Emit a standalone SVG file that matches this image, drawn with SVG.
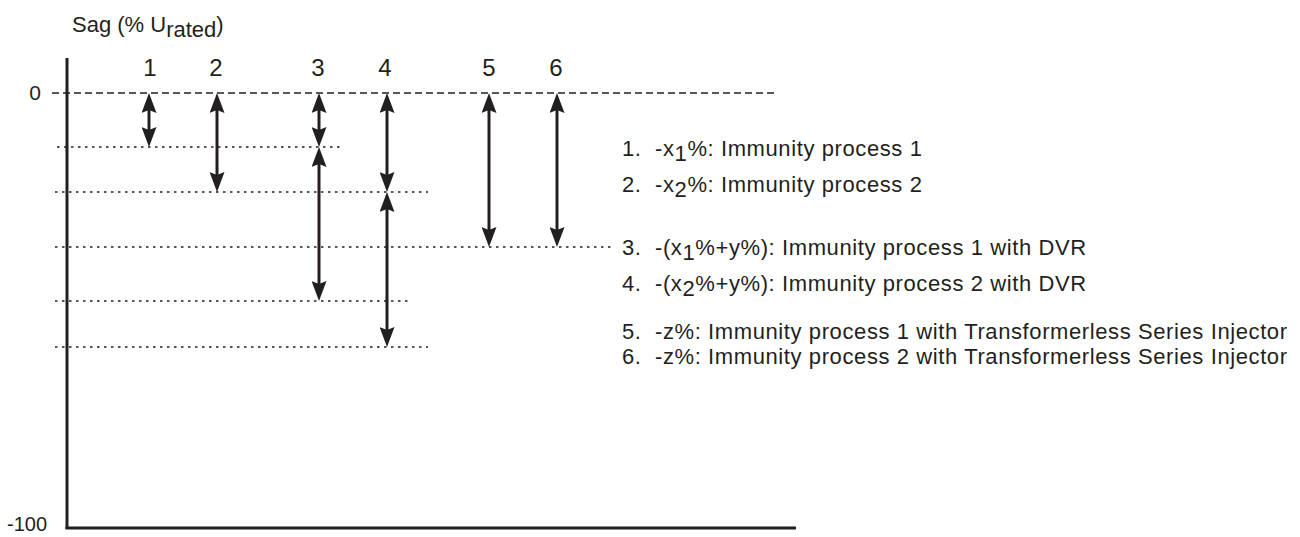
<svg xmlns="http://www.w3.org/2000/svg" width="1300" height="537" viewBox="0 0 1300 537">
<style>
.txt{font-family:"Liberation Sans",Arial,sans-serif;fill:#231f20}
.lbl{font-size:22px;letter-spacing:0.6px}
.num{font-size:24px}
.axis{stroke:#231f20;stroke-width:3;fill:none}
.dash{stroke:#231f20;stroke-width:1.5;stroke-dasharray:7 4;fill:none}
.dot{stroke:#231f20;stroke-width:1.5;stroke-dasharray:2.5 4.5;fill:none}
.arr{stroke:#231f20;stroke-width:3;fill:none;marker-start:url(#ah);marker-end:url(#ah)}
</style>
<defs>
<marker id="ah" markerUnits="userSpaceOnUse" viewBox="0 0 20 15" refX="10" refY="7.5" markerWidth="20" markerHeight="15" orient="auto-start-reverse">
<path d="M0,0 L20,7.5 L0,15 L3,7.5 Z" fill="#231f20"/>
</marker>
</defs>
<g id="axes">
<line class="axis" x1="67" y1="58" x2="67" y2="529"/>
<line class="axis" x1="65.5" y1="528" x2="796" y2="528"/>
<text class="txt" x="35" y="100" font-size="21" text-anchor="middle">0</text>
<text class="txt" x="7" y="531" font-size="20">-100</text>
<text class="txt" x="72" y="32" font-size="22">Sag (% U<tspan dy="5">rated</tspan><tspan dy="-5">)</tspan></text>
</g>
<g id="levels">
<line class="dash" x1="52" y1="93" x2="778" y2="93"/>
<line class="dot" x1="57" y1="147" x2="343" y2="147"/>
<line class="dot" x1="55" y1="192" x2="428" y2="192"/>
<line class="dot" x1="55" y1="247" x2="612" y2="247"/>
<line class="dot" x1="55" y1="301" x2="412" y2="301"/>
<line class="dot" x1="55" y1="347" x2="428" y2="347"/>
</g>
<g id="columns" class="txt num" text-anchor="middle">
<text x="150" y="76">1</text>
<text x="216" y="76">2</text>
<text x="318" y="76">3</text>
<text x="385" y="76">4</text>
<text x="489" y="76">5</text>
<text x="556" y="76">6</text>
</g>
<g id="connectors">
<line class="arr" x1="149" y1="103" x2="149" y2="137"/>
<line class="arr" x1="217" y1="103" x2="217" y2="182"/>
<line class="arr" x1="319" y1="103" x2="319" y2="137"/>
<line class="arr" x1="319" y1="157" x2="319" y2="291"/>
<line class="arr" x1="387" y1="103" x2="387" y2="182"/>
<line class="arr" x1="387" y1="202" x2="387" y2="337"/>
<line class="arr" x1="489" y1="103" x2="489" y2="237"/>
<line class="arr" x1="557" y1="103" x2="557" y2="237"/>
</g>
<g id="legend" class="txt lbl">
<text x="622" y="156">1.<tspan x="655">-x<tspan dy="5">1</tspan><tspan dy="-5">%: Immunity process 1</tspan></tspan></text>
<text x="622" y="192">2.<tspan x="655">-x<tspan dy="5">2</tspan><tspan dy="-5">%: Immunity process 2</tspan></tspan></text>
<text x="622" y="255">3.<tspan x="655">-(x<tspan dy="5">1</tspan><tspan dy="-5">%+y%): Immunity process 1 with DVR</tspan></tspan></text>
<text x="622" y="291">4.<tspan x="655">-(x<tspan dy="5">2</tspan><tspan dy="-5">%+y%): Immunity process 2 with DVR</tspan></tspan></text>
<text x="622" y="339">5.<tspan x="655">-z%: Immunity process 1 with Transformerless Series Injector</tspan></text>
<text x="622" y="364">6.<tspan x="655">-z%: Immunity process 2 with Transformerless Series Injector</tspan></text>
</g>
</svg>
